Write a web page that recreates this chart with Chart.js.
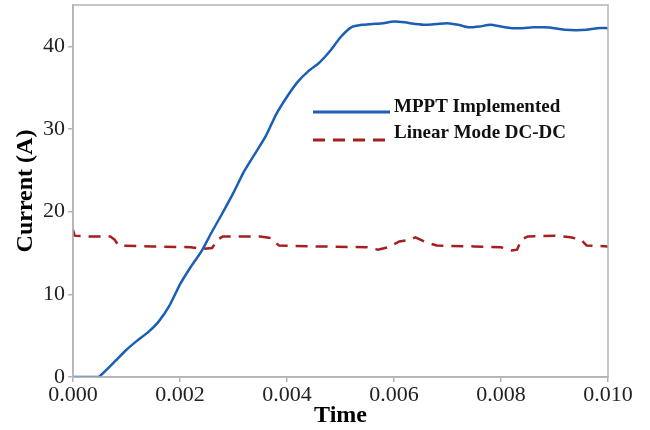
<!DOCTYPE html>
<html>
<head>
<meta charset="utf-8">
<script src="https://cdn.jsdelivr.net/npm/chart.js@4.4.1/dist/chart.umd.min.js"></script>
<style>
  html, body { margin: 0; padding: 0; background: #fff; }
  canvas { display: block; }
</style>
</head>
<body>
<canvas id="chart" width="650" height="430"></canvas>
<script>
// MPPT current (blue, solid)
const mpptTime = [0, 0.00045, 0.0005, 0.0006, 0.0008, 0.0010, 0.0012, 0.0014, 0.0016, 0.0018,
    0.0020, 0.0022, 0.0024, 0.0026, 0.0028, 0.0030, 0.0032, 0.0034, 0.0036, 0.0038,
    0.0040, 0.0042, 0.0044, 0.0046, 0.0048, 0.0050, 0.0052, 0.0054, 0.0056, 0.0058,
    0.0060, 0.0062, 0.0064, 0.0066, 0.0068, 0.0070, 0.0072, 0.0074, 0.0076, 0.0078,
    0.0080, 0.0082, 0.0084, 0.0086, 0.0088, 0.0090, 0.0092, 0.0094, 0.0096, 0.0098, 0.0100];
const mpptCurrent = [0, 0, 0.1, 0.7, 2.0, 3.3, 4.4, 5.4, 6.7, 8.6,
    11.2, 13.3, 15.2, 17.6, 19.9, 22.3, 24.9, 27.0, 29.1, 31.8,
    33.9, 35.7, 37.0, 38.0, 39.4, 41.1, 42.3, 42.6, 42.7, 42.8,
    43.0, 42.9, 42.7, 42.6, 42.7, 42.8, 42.6, 42.3, 42.4, 42.6,
    42.4, 42.2, 42.2, 42.3, 42.3, 42.2, 42.0, 41.95, 42.0, 42.2, 42.2];

// Linear mode DC-DC current (red, dashed)
const linearTime = [0, 0.00003, 0.0003, 0.0007, 0.00078, 0.00085, 0.0015, 0.0022, 0.0024, 0.0026,
    0.0027, 0.0028, 0.0035, 0.0037, 0.00385, 0.0045, 0.0055, 0.0057, 0.0059, 0.0061,
    0.0063, 0.0064, 0.0066, 0.0068, 0.0075, 0.0080, 0.0082, 0.0083, 0.00838, 0.0085,
    0.0090, 0.0093, 0.0095, 0.0096, 0.0100];
const linearCurrent = [17.8, 17.1, 17.0, 17.0, 16.6, 15.9, 15.8, 15.7, 15.5, 15.6,
    16.6, 17.0, 17.0, 16.8, 15.9, 15.8, 15.7, 15.4, 15.7, 16.4,
    16.6, 16.9, 16.3, 15.9, 15.8, 15.7, 15.3, 15.4, 16.6, 17.0,
    17.1, 16.9, 16.6, 15.9, 15.8];

const xTickValues = [0, 0.002, 0.004, 0.006, 0.008, 0.010];
const yTickValues = [0, 10, 20, 30, 40];

const toPoints = (xs, ys) => xs.map((x, i) => ({ x: x, y: ys[i] }));

// legend drawn inside the plot, lines sit on the text baseline
const innerLegend = {
    id: 'innerLegend',
    afterDraw(chart) {
        const ctx = chart.ctx;
        const rows = [112, 140];
        ctx.save();
        chart.data.datasets.forEach((ds, i) => {
            const y = rows[i];
            ctx.strokeStyle = ds.borderColor;
            ctx.lineWidth = 3;
            ctx.setLineDash(ds.borderDash || []);
            ctx.beginPath();
            ctx.moveTo(313, y);
            ctx.lineTo(390, y);
            ctx.stroke();
            ctx.setLineDash([]);
            ctx.fillStyle = '#111';
            ctx.font = 'bold 19px "Liberation Serif"';
            ctx.textBaseline = 'alphabetic';
            ctx.fillText(ds.label, 394, y - (i === 0 ? 0 : 2));
        });
        ctx.restore();
    }
};

// full box around the plot
const frame = {
    id: 'frame',
    afterDatasetsDraw(chart) {
        const a = chart.chartArea;
        const ctx = chart.ctx;
        ctx.save();
        ctx.strokeStyle = '#b4b4b4';
        ctx.lineWidth = 1.5;
        ctx.strokeRect(a.left, a.top, a.right - a.left, a.bottom - a.top);
        ctx.restore();
    }
};

new Chart(document.getElementById('chart'), {
    type: 'line',
    data: {
        datasets: [{
            label: 'MPPT Implemented',
            data: toPoints(mpptTime, mpptCurrent),
            borderColor: '#1a5fb4',
            borderWidth: 2.5,
            pointRadius: 0,
            tension: 0.2
        }, {
            label: 'Linear Mode DC-DC',
            data: toPoints(linearTime, linearCurrent),
            borderColor: '#a51f1f',
            borderWidth: 2.5,
            borderDash: [12, 8],
            pointRadius: 0,
            tension: 0
        }]
    },
    options: {
        responsive: false,
        animation: false,
        devicePixelRatio: 1,
        layout: { padding: { top: 5, right: 42, left: 0, bottom: 0 } },
        plugins: {
            legend: { display: false },
            tooltip: { enabled: false }
        },
        scales: {
            x: {
                type: 'linear',
                min: 0,
                max: 0.010,
                afterBuildTicks: (s) => { s.ticks = xTickValues.map(v => ({ value: v })); },
                afterFit: (s) => { s.height = 53; s.paddingLeft = 0; s.paddingRight = 0; },
                ticks: {
                    callback: (v) => Number(v).toFixed(3),
                    color: '#222',
                    font: { family: 'Liberation Serif', size: 22 },
                    padding: 0,
                    maxRotation: 0
                },
                grid: { drawOnChartArea: false, drawTicks: true, tickLength: 5, color: '#b4b4b4', lineWidth: 1.5 },
                border: { display: true, color: '#b4b4b4', width: 1.5 },
                title: {
                    display: true,
                    text: 'Time',
                    color: '#000',
                    font: { family: 'Liberation Serif', size: 24, weight: 'bold' },
                    padding: { top: 0, bottom: 0 }
                }
            },
            y: {
                min: 0,
                max: 45,
                afterBuildTicks: (s) => { s.ticks = yTickValues.map(v => ({ value: v })); },
                afterFit: (s) => { s.width = 73; s.paddingTop = 0; s.paddingBottom = 0; },
                ticks: {
                    color: '#222',
                    font: { family: 'Liberation Serif', size: 22 },
                    padding: 3
                },
                grid: { drawOnChartArea: false, drawTicks: true, tickLength: 5, color: '#b4b4b4', lineWidth: 1.5 },
                border: { display: true, color: '#b4b4b4', width: 1.5 },
                title: {
                    display: true,
                    text: 'Current (A)',
                    color: '#000',
                    font: { family: 'Liberation Serif', size: 24, weight: 'bold' },
                    padding: { top: 11, bottom: 0 }
                }
            }
        }
    },
    plugins: [innerLegend, frame]
});
</script>
</body>
</html>
